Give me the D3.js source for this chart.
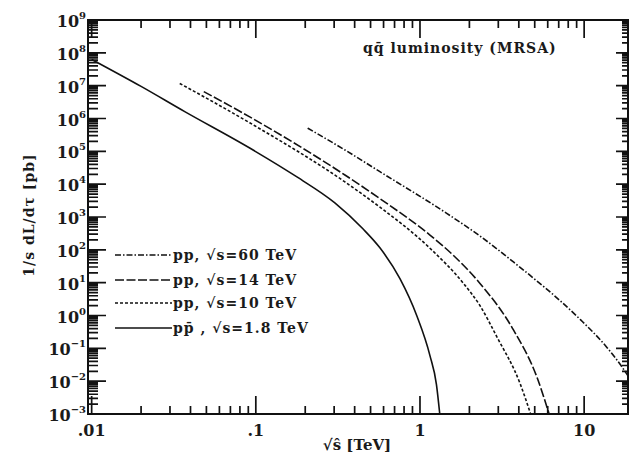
<!DOCTYPE html>
<html>
<head>
<meta charset="utf-8">
<script src="https://cdn.jsdelivr.net/npm/d3@7"></script>
<style>
  html, body { margin: 0; padding: 0; background: #fff; }
  svg text.lbl { font-family: 'DejaVu Serif', serif; fill: #1a1a1a; font-weight: bold; }
</style>
</head>
<body>
<svg id="chart" width="630" height="455"></svg>
<script>
// sqrt(s-hat) [TeV] and 1/s dL/dtau [pb]
const shat60 = [0.207, 0.349, 0.570, 1.455, 2.32, 3.71, 4.69, 7.14, 9.46, 13.8, 17.3, 18.5];
const lum60  = [5.1e5, 1.1e5, 2.4e4, 1.29e3, 263, 42.7, 16.6, 2.82, 0.76, 0.105, 0.024, 0.0145];

const shat14 = [0.0482, 0.0918, 0.349, 0.570, 1.15, 1.63, 2.32, 3.71, 5.15, 6.12];
const lum14  = [6.6e6, 1.12e6, 1.9e4, 3.63e3, 282, 61.7, 9.5, 0.363, 0.0135, 0.001];

const shat10 = [0.0344, 0.0918, 0.349, 0.570, 1.15, 1.84, 2.32, 2.94, 4.07, 4.72];
const lum10  = [1.17e7, 7.4e5, 1.17e4, 2.0e3, 112, 9.5, 2.0, 0.224, 0.0085, 0.001];

const shat18 = [0.01, 0.02, 0.0369, 0.0918, 0.178, 0.303, 0.449, 0.570, 0.755, 0.955, 1.15, 1.26, 1.32];
const lum18  = [6.3e7, 9.5e6, 1.62e6, 1.26e5, 1.66e4, 2.69e3, 437, 115, 13.2, 1.0, 0.060, 0.0079, 0.001];

const seriesLabels = ["pp, \u221as=60 TeV", "pp, \u221as=14 TeV", "pp, \u221as=10 TeV", "pp\u0304 , \u221as=1.8 TeV"];
const xTickValues = [0.01, 0.1, 1, 10];
const xTickLabels = [".01", ".1", "1", "10"];
const yExponents = [-3, -2, -1, 0, 1, 2, 3, 4, 5, 6, 7, 8, 9];

const series = [
  { x: shat60, y: lum60, dash: "6,2,1.5,2" },
  { x: shat14, y: lum14, dash: "9,2.5" },
  { x: shat10, y: lum10, dash: "3,2" },
  { x: shat18, y: lum18, dash: null }
];

const plotLeft = 88, plotRight = 628, plotTop = 20, plotBottom = 414;
const ink = "#111";

const x = d3.scaleLog().domain([0.0095, 18.5]).range([plotLeft, plotRight]);
const y = d3.scaleLog().domain([1e-3, 1e9]).range([plotBottom, plotTop]);

const svg = d3.select("#chart");

svg.append("defs").append("clipPath").attr("id", "plotclip")
  .append("rect")
  .attr("x", plotLeft).attr("y", plotTop)
  .attr("width", plotRight - plotLeft).attr("height", plotBottom - plotTop);

// frame
svg.append("rect")
  .attr("x", plotLeft).attr("y", plotTop)
  .attr("width", plotRight - plotLeft).attr("height", plotBottom - plotTop)
  .attr("fill", "none").attr("stroke", ink).attr("stroke-width", 2);

// tick values: decades plus 2..9 in between
const xTicks = [];
xTickValues.forEach(d => {
  for (let k = 1; k <= 9; k++) if (d * k <= 18.5) xTicks.push({ v: d * k, major: k === 1 });
});
const yTicks = [];
yExponents.forEach(e => {
  for (let k = 1; k <= 9; k++) {
    const v = k * Math.pow(10, e);
    if (v <= 1e9) yTicks.push({ v: v, major: k === 1 });
  }
});

// inward ticks on all four sides, drawn on top of the frame
let tickPath = "";
xTicks.forEach(d => {
  const px = x(d.v), len = d.major ? 18 : 8;
  tickPath += "M" + px + "," + plotBottom + "v" + (-len);
  tickPath += "M" + px + "," + plotTop + "v" + len;
});
yTicks.forEach(d => {
  const py = y(d.v);
  tickPath += "M" + plotLeft + "," + py + "h" + (d.major ? 18 : 10);
  tickPath += "M" + plotRight + "," + py + "h" + (d.major ? -12 : -6);
});
svg.append("path")
  .attr("d", tickPath)
  .attr("fill", "none")
  .attr("stroke", ink)
  .attr("stroke-width", 1.7);

// tick labels
svg.append("g").selectAll("text").data(xTickValues).join("text")
  .attr("class", "lbl")
  .attr("x", d => x(d)).attr("y", 436)
  .attr("text-anchor", "middle")
  .attr("font-size", 16)
  .text((d, i) => xTickLabels[i]);

const yl = svg.append("g").selectAll("text").data(yExponents).join("text")
  .attr("class", "lbl")
  .attr("x", 86).attr("y", d => y(Math.pow(10, d)) + 7)
  .attr("text-anchor", "end")
  .attr("font-size", 16);
yl.append("tspan").text("10");
yl.append("tspan").attr("dy", -8).attr("font-size", 10)
  .text(d => String(d).replace("-", "\u2212"));

// curves
const lineGen = d3.line()
  .x(d => x(d[0]))
  .y(d => y(d[1]))
  .curve(d3.curveMonotoneX);

svg.append("g").attr("clip-path", "url(#plotclip)")
  .selectAll("path").data(series).join("path")
  .attr("d", s => lineGen(s.x.map((v, i) => [v, s.y[i]])))
  .attr("fill", "none")
  .attr("stroke", ink)
  .attr("stroke-width", 1.6)
  .attr("stroke-dasharray", s => s.dash);

// legend
const legendY = [255, 280, 303, 328];
const lg = svg.append("g").selectAll("g").data(series).join("g")
  .attr("transform", (d, i) => "translate(0," + legendY[i] + ")");
lg.append("line")
  .attr("x1", 115).attr("x2", 172)
  .attr("stroke", ink).attr("stroke-width", 1.6)
  .attr("stroke-dasharray", d => d.dash);
lg.append("text")
  .attr("class", "lbl")
  .attr("x", 173).attr("y", 5)
  .attr("font-size", 14)
  .attr("letter-spacing", 1)
  .text((d, i) => seriesLabels[i]);

// annotation
svg.append("text")
  .attr("class", "lbl")
  .attr("x", 363).attr("y", 53)
  .attr("font-size", 14)
  .attr("letter-spacing", 1)
  .text("qq\u0304 luminosity (MRSA)");

// axis titles
svg.append("text")
  .attr("class", "lbl")
  .attr("x", 357).attr("y", 450)
  .attr("text-anchor", "middle")
  .attr("font-size", 15)
  .text("\u221a\u015d [TeV]");

svg.append("text")
  .attr("class", "lbl")
  .attr("transform", "translate(34,215) rotate(-90)")
  .attr("text-anchor", "middle")
  .attr("font-size", 14)
  .attr("letter-spacing", 1)
  .text("1/s dL/d\u03c4 [pb]");
</script>
</body>
</html>
